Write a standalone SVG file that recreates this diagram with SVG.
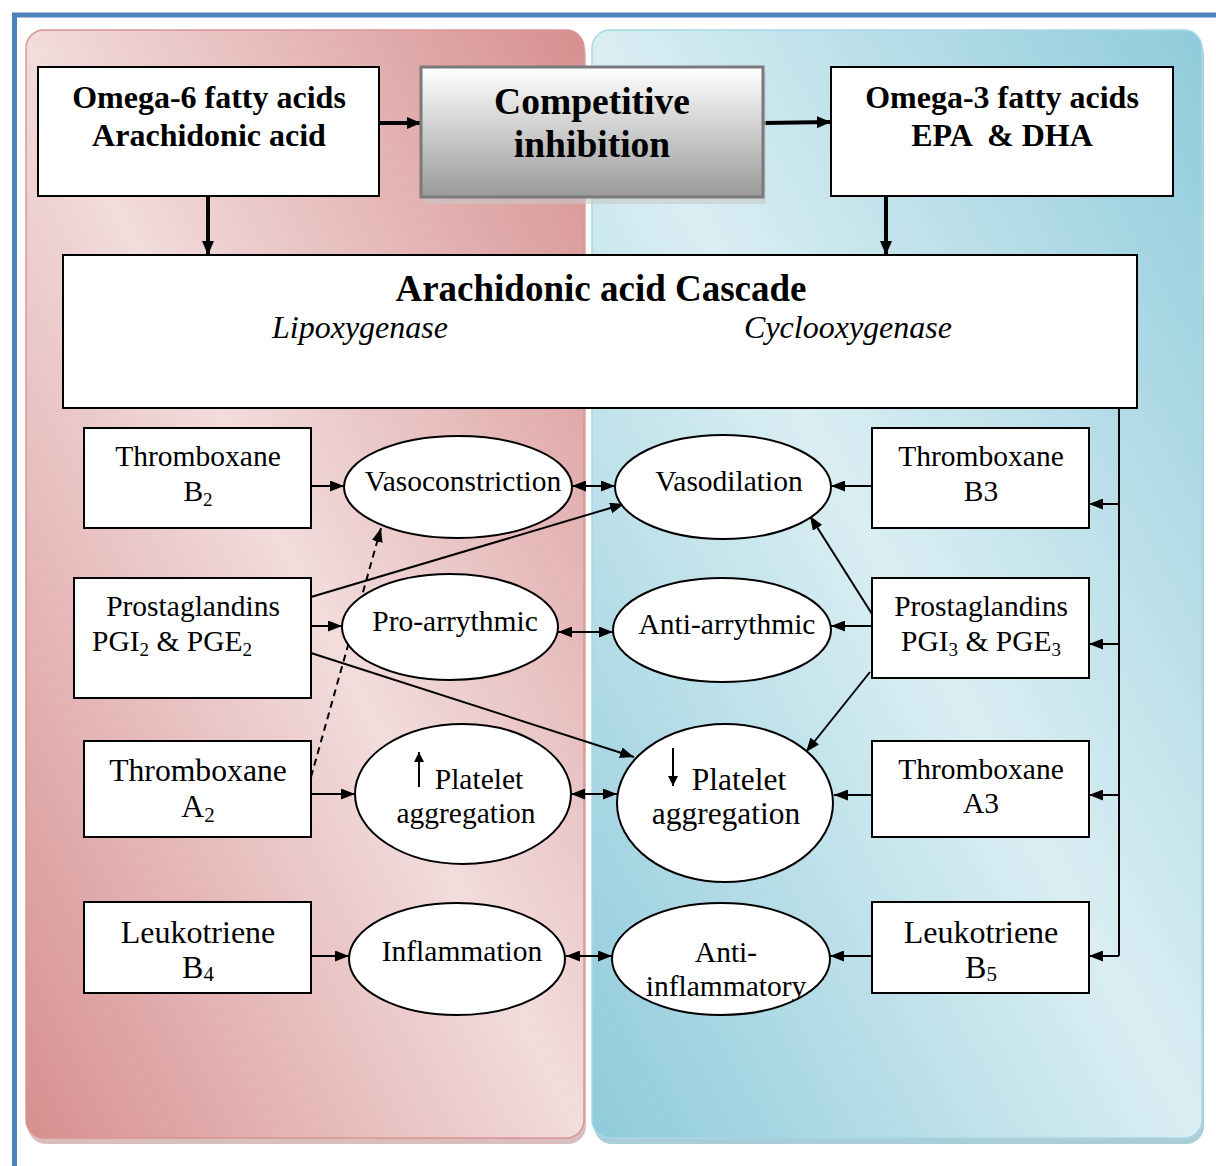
<svg xmlns="http://www.w3.org/2000/svg" width="1216" height="1166" viewBox="0 0 1216 1166" font-family="Liberation Serif, Times New Roman, serif">
<defs>
<linearGradient id="gRed" x1="1" y1="0" x2="0" y2="1">
<stop offset="0" stop-color="#d78f8f"/>
<stop offset="0.5" stop-color="#f2dcdc"/>
<stop offset="1" stop-color="#d78f8f"/>
</linearGradient>
<linearGradient id="gBlue" x1="1" y1="0" x2="0" y2="1">
<stop offset="0" stop-color="#8fcbdb"/>
<stop offset="0.5" stop-color="#daeef3"/>
<stop offset="1" stop-color="#8fcbdb"/>
</linearGradient>
<linearGradient id="gGray" x1="0" y1="0" x2="0" y2="1">
<stop offset="0" stop-color="#ffffff"/>
<stop offset="1" stop-color="#9a9a9a"/>
</linearGradient>
<marker id="ah" viewBox="0 0 14 11" refX="14" refY="5.5" markerWidth="14" markerHeight="11" markerUnits="userSpaceOnUse" orient="auto-start-reverse">
<path d="M0,0 L14,5.5 L0,11 z" fill="#000"/>
</marker>
<marker id="ahBig" viewBox="0 0 14 12" refX="14" refY="6" markerWidth="14" markerHeight="12" markerUnits="userSpaceOnUse" orient="auto">
<path d="M0,0 L14,6 L0,12 z" fill="#000"/>
</marker>
<marker id="ahS" viewBox="0 0 10 10" refX="10" refY="5" markerWidth="11" markerHeight="10" markerUnits="userSpaceOnUse" orient="auto">
<path d="M0,0 L10,5 L0,10 z" fill="#000"/>
</marker>
<clipPath id="clipAI"><ellipse cx="721" cy="959" rx="109" ry="56"/></clipPath>
</defs>
<style>
.box{fill:#fff;stroke:#000;stroke-width:2}
.ell{fill:#fff;stroke:#000;stroke-width:2}
.t{font-family:'Liberation Serif','Times New Roman',serif;fill:#000;text-anchor:middle}
.b{font-weight:bold}
.it{font-style:italic}
.ln{stroke:#000;stroke-width:2;fill:none}
.thick{stroke:#000;stroke-width:4;fill:none}
</style>

<!-- frame -->
<rect x="0" y="0" width="1216" height="1166" fill="#fff"/>
<line x1="12" y1="15" x2="1216" y2="15" stroke="#4f81bd" stroke-width="5"/>
<line x1="14.5" y1="13" x2="14.5" y2="1166" stroke="#4f81bd" stroke-width="5"/>

<!-- panels -->
<g id="panel-red">
<rect x="28" y="36" width="558" height="1108" rx="18" fill="#c9a2a2" opacity="0.7"/>
<rect x="26" y="30" width="558" height="1108" rx="18" fill="url(#gRed)" stroke="#d99594" stroke-width="1.5"/>
</g>
<g id="panel-blue">
<rect x="594" y="36" width="610" height="1108" rx="18" fill="#86b9c6" opacity="0.7"/>
<rect x="592" y="30" width="610" height="1108" rx="18" fill="url(#gBlue)" stroke="#a8d8e4" stroke-width="1.5"/>
</g>

<!-- connectors -->
<g id="connectors">
<line class="thick" x1="379" y1="123" x2="421" y2="123" marker-end="url(#ahBig)"/>
<line class="thick" x1="763" y1="123" x2="831" y2="122" marker-end="url(#ahBig)"/>
<line class="thick" x1="208" y1="196" x2="208" y2="255" marker-end="url(#ahBig)"/>
<line class="thick" x1="886" y1="196" x2="886" y2="255" marker-end="url(#ahBig)"/>

<line class="ln" x1="311" y1="486" x2="344" y2="486" marker-end="url(#ah)"/>
<line class="ln" x1="572" y1="486" x2="615" y2="486" marker-start="url(#ah)" marker-end="url(#ah)"/>
<line class="ln" x1="311" y1="597" x2="624" y2="504" marker-end="url(#ah)"/>
<line class="ln" x1="311" y1="626" x2="342" y2="626" marker-end="url(#ah)"/>
<line class="ln" x1="311" y1="653" x2="634" y2="757" marker-end="url(#ah)"/>
<line class="ln" x1="311" y1="777" x2="381" y2="528" stroke-dasharray="7,5" marker-end="url(#ah)"/>
<line class="ln" x1="311" y1="794" x2="355" y2="794" marker-end="url(#ah)"/>
<line class="ln" x1="558" y1="632" x2="613" y2="632" marker-start="url(#ah)" marker-end="url(#ah)"/>
<line class="ln" x1="571" y1="794" x2="617" y2="794" marker-start="url(#ah)" marker-end="url(#ah)"/>
<line class="ln" x1="311" y1="956" x2="349" y2="956" marker-end="url(#ah)"/>
<line class="ln" x1="566" y1="956" x2="612" y2="956" marker-start="url(#ah)" marker-end="url(#ah)"/>

<line class="ln" x1="872" y1="486" x2="831" y2="486" marker-end="url(#ah)"/>
<line class="ln" x1="872" y1="626" x2="831" y2="626" marker-end="url(#ah)"/>
<line class="ln" x1="872" y1="614" x2="810" y2="516" marker-end="url(#ah)"/>
<line class="ln" x1="870" y1="672" x2="806" y2="752" marker-end="url(#ah)"/>
<line class="ln" x1="872" y1="795" x2="834" y2="795" marker-end="url(#ah)"/>
<line class="ln" x1="872" y1="956" x2="830" y2="956" marker-end="url(#ah)"/>

<polyline class="ln" points="1137,408 1119,408 1119,956"/>
<line class="ln" x1="1119" y1="504" x2="1089" y2="504" marker-end="url(#ah)"/>
<line class="ln" x1="1119" y1="644" x2="1089" y2="644" marker-end="url(#ah)"/>
<line class="ln" x1="1119" y1="795" x2="1089" y2="795" marker-end="url(#ah)"/>
<line class="ln" x1="1119" y1="956" x2="1089" y2="956" marker-end="url(#ah)"/>
</g>

<!-- top boxes -->
<g id="omega6">
<rect class="box" x="38" y="67" width="341" height="129"/>
<text class="t b" x="209" y="108" font-size="32">Omega-6 fatty acids</text>
<text class="t b" x="209" y="146" font-size="32">Arachidonic acid</text>
</g>
<g id="competitive">
<rect x="424" y="72" width="342" height="132" fill="#c8c8c8" opacity="0.6"/>
<rect x="421" y="67" width="342" height="130" fill="url(#gGray)" stroke="#7a7a7a" stroke-width="3"/>
<text class="t b" x="592" y="114" font-size="37.5">Competitive</text>
<text class="t b" x="592" y="157" font-size="37.5">inhibition</text>
</g>
<g id="omega3">
<rect class="box" x="831" y="67" width="342" height="129"/>
<text class="t b" x="1002" y="108" font-size="32">Omega-3 fatty acids</text>
<text class="t b" x="1002" y="146" font-size="32" xml:space="preserve">EPA  &amp; DHA</text>
</g>
<g id="cascade">
<rect class="box" x="63" y="255" width="1074" height="153"/>
<text class="t b" x="601" y="301" font-size="37">Arachidonic acid Cascade</text>
<text class="t it" x="360" y="338" font-size="32">Lipoxygenase</text>
<text class="t it" x="848" y="338" font-size="32">Cyclooxygenase</text>
</g>

<!-- left boxes -->
<g id="txb2">
<rect class="box" x="84" y="428" width="227" height="100"/>
<text class="t" x="198" y="466" font-size="29.5">Thromboxane</text>
<text class="t" x="198" y="501" font-size="29.5">B<tspan font-size="19" dy="5">2</tspan></text>
</g>
<g id="pg2">
<rect class="box" x="74" y="578" width="237" height="120"/>
<text class="t" x="193" y="616" font-size="29.5">Prostaglandins</text>
<text class="t" x="172" y="651" font-size="29.5">PGI<tspan font-size="19" dy="5">2</tspan><tspan dy="-5"> &amp; PGE</tspan><tspan font-size="19" dy="5">2</tspan></text>
</g>
<g id="txa2">
<rect class="box" x="84" y="741" width="227" height="96"/>
<text class="t" x="198" y="781" font-size="31.7">Thromboxane</text>
<text class="t" x="198" y="817" font-size="31.7">A<tspan font-size="21" dy="5">2</tspan></text>
</g>
<g id="ltb4">
<rect class="box" x="84" y="902" width="227" height="91"/>
<text class="t" x="198" y="943" font-size="32">Leukotriene</text>
<text class="t" x="198" y="978" font-size="32">B<tspan font-size="21" dy="3">4</tspan></text>
</g>

<!-- left ellipses -->
<g id="vasoconstriction">
<ellipse class="ell" cx="458" cy="487" rx="114" ry="51"/>
<text class="t" x="463" y="491" font-size="29.5">Vasoconstriction</text>
</g>
<g id="proarrythmic">
<ellipse class="ell" cx="450" cy="627" rx="108" ry="53"/>
<text class="t" x="455" y="631" font-size="29.5">Pro-arrythmic</text>
</g>
<g id="plateletUp">
<ellipse class="ell" cx="463" cy="794" rx="108" ry="70"/>
<line class="ln" x1="419" y1="787" x2="419" y2="752" marker-end="url(#ahS)"/>
<text class="t" x="479" y="789" font-size="29.5">Platelet</text>
<text class="t" x="466" y="823" font-size="29.5">aggregation</text>
</g>
<g id="inflammation">
<ellipse class="ell" cx="457" cy="959" rx="108" ry="56"/>
<text class="t" x="462" y="961" font-size="29.5">Inflammation</text>
</g>

<!-- right ellipses -->
<g id="vasodilation">
<ellipse class="ell" cx="723" cy="487" rx="108" ry="52"/>
<text class="t" x="729" y="491" font-size="29.5">Vasodilation</text>
</g>
<g id="antiarrythmic">
<ellipse class="ell" cx="722" cy="630" rx="109" ry="52"/>
<text class="t" x="727" y="634" font-size="29.5">Anti-arrythmic</text>
</g>
<g id="plateletDown">
<ellipse class="ell" cx="725" cy="803" rx="108" ry="79"/>
<line class="ln" x1="673" y1="748" x2="673" y2="786" marker-end="url(#ahS)"/>
<text class="t" x="739" y="790" font-size="31.5">Platelet</text>
<text class="t" x="726" y="824" font-size="31.5">aggregation</text>
</g>
<g id="antiinflammatory">
<ellipse class="ell" cx="721" cy="959" rx="109" ry="56"/>
<text class="t" x="726" y="962" font-size="29.5">Anti-</text>
<text class="t" x="726" y="996" font-size="29.5" clip-path="url(#clipAI)">inflammatory</text>
</g>

<!-- right boxes -->
<g id="txb3">
<rect class="box" x="872" y="428" width="217" height="100"/>
<text class="t" x="981" y="466" font-size="29.5">Thromboxane</text>
<text class="t" x="981" y="501" font-size="29.5">B3</text>
</g>
<g id="pg3">
<rect class="box" x="872" y="578" width="217" height="100"/>
<text class="t" x="981" y="616" font-size="29.5">Prostaglandins</text>
<text class="t" x="981" y="651" font-size="29.5">PGI<tspan font-size="19" dy="5">3</tspan><tspan dy="-5"> &amp; PGE</tspan><tspan font-size="19" dy="5">3</tspan></text>
</g>
<g id="txa3">
<rect class="box" x="872" y="741" width="217" height="96"/>
<text class="t" x="981" y="779" font-size="29.5">Thromboxane</text>
<text class="t" x="981" y="813" font-size="29.5">A3</text>
</g>
<g id="ltb5">
<rect class="box" x="872" y="902" width="217" height="91"/>
<text class="t" x="981" y="943" font-size="32">Leukotriene</text>
<text class="t" x="981" y="978" font-size="32">B<tspan font-size="21" dy="3">5</tspan></text>
</g>
</svg>
